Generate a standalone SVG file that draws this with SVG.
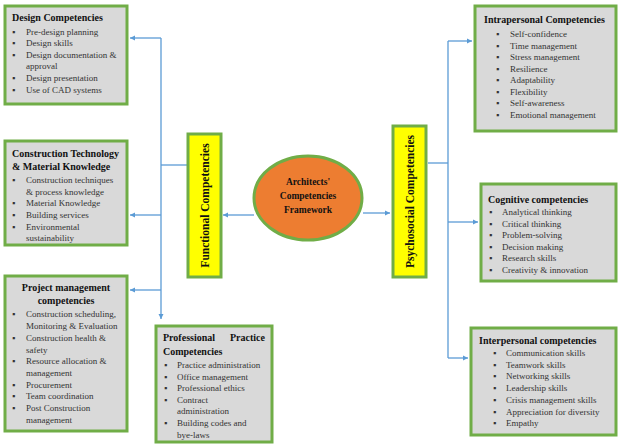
<svg xmlns="http://www.w3.org/2000/svg" width="623" height="446" viewBox="0 0 623 446">
<style>
.box{fill:#d9d9d9;stroke:#70ad47;stroke-width:3}
.yb{fill:#ffff00;stroke:#70ad47;stroke-width:3}
.t{font-family:"Liberation Serif",serif;font-size:10px;font-weight:bold;fill:#111}
.i{font-family:"Liberation Serif",serif;font-size:9px;fill:#333}
.v{font-family:"Liberation Serif",serif;font-size:11.5px;font-weight:bold;fill:#111}
.c{stroke:#5b9bd5;stroke-width:1.3;fill:none}
</style>
<defs><marker id="a" markerWidth="6" markerHeight="6" refX="5" refY="3" orient="auto" markerUnits="userSpaceOnUse"><path d="M0,0.5 L5,3 L0,5.5z" fill="#5b9bd5"/></marker></defs>
<rect width="623" height="446" fill="#fff"/>
<g id="connectors">
<path class="c" d="M187,165 H161"/>
<path class="c" d="M161,38 V319" marker-end="url(#a)"/>
<path class="c" d="M161,38 H130" marker-end="url(#a)"/>
<path class="c" d="M161,215 H130" marker-end="url(#a)"/>
<path class="c" d="M161,290 H130" marker-end="url(#a)"/>
<path class="c" d="M254,215 H223" marker-end="url(#a)"/>
<path class="c" d="M363,213 H390" marker-end="url(#a)"/>
<path class="c" d="M428,163 H448"/>
<path class="c" d="M448,41 V358"/>
<path class="c" d="M448,41 H472" marker-end="url(#a)"/>
<path class="c" d="M448,222 H478" marker-end="url(#a)"/>
<path class="c" d="M448,358 H468" marker-end="url(#a)"/>
</g>
<g id="design"><rect class="box" x="5" y="6" width="122" height="98"/>
<text class="t" x="12" y="21">Design Competencies</text>
<g class="i"><text x="12" y="35">▪</text><text x="26" y="35">Pre-design planning</text><text x="12" y="46">▪</text><text x="26" y="46">Design skills</text><text x="12" y="58">▪</text><text x="26" y="58">Design documentation &amp;</text><text x="26" y="69">approval</text><text x="12" y="81">▪</text><text x="26" y="81">Design presentation</text><text x="12" y="93">▪</text><text x="26" y="93">Use of CAD systems</text></g></g>
<g id="construction"><rect class="box" x="5" y="141" width="122" height="104"/>
<text class="t" x="12" y="157">Construction  Technology</text><text class="t" x="12" y="170">&amp; Material Knowledge</text>
<g class="i"><text x="12" y="183">▪</text><text x="26" y="183">Construction techniques</text><text x="26" y="195">&amp; process knowledge</text><text x="12" y="206">▪</text><text x="26" y="206">Material Knowledge</text><text x="12" y="218">▪</text><text x="26" y="218">Building services</text><text x="12" y="230">▪</text><text x="26" y="230">Environmental</text><text x="26" y="241">sustainability</text></g></g>
<g id="project"><rect class="box" x="5" y="276" width="122" height="155"/>
<text class="t" x="66" y="291" text-anchor="middle">Project management</text><text class="t" x="66" y="304" text-anchor="middle">competencies</text>
<g class="i"><text x="12" y="317">▪</text><text x="26" y="317">Construction scheduling,</text><text x="26" y="329">Monitoring &amp; Evaluation</text><text x="12" y="341">▪</text><text x="26" y="341">Construction health &amp;</text><text x="26" y="353">safety</text><text x="12" y="364">▪</text><text x="26" y="364">Resource allocation &amp;</text><text x="26" y="376">management</text><text x="12" y="388">▪</text><text x="26" y="388">Procurement</text><text x="12" y="399">▪</text><text x="26" y="399">Team coordination</text><text x="12" y="411">▪</text><text x="26" y="411">Post Construction</text><text x="26" y="423">management</text></g></g>
<g id="professional"><rect class="box" x="156" y="326" width="116" height="116"/>
<text class="t" x="163" y="341">Professional</text><text class="t" x="265" y="341" text-anchor="end">Practice</text><text class="t" x="163" y="355">Competencies</text>
<g class="i"><text x="164" y="368">▪</text><text x="177" y="368">Practice administration</text><text x="164" y="380">▪</text><text x="177" y="380">Office management</text><text x="164" y="391">▪</text><text x="177" y="391">Professional ethics</text><text x="164" y="403">▪</text><text x="177" y="403">Contract</text><text x="177" y="414">administration</text><text x="164" y="426">▪</text><text x="177" y="426">Building codes and</text><text x="177" y="438">bye-laws</text></g></g>
<g id="functional"><rect class="yb" x="188" y="134" width="33" height="143"/>
<text class="v" transform="translate(209,205.5) rotate(-90)" text-anchor="middle">Functional Competencies</text></g>
<g id="center"><ellipse cx="308" cy="198" rx="54" ry="42" fill="#ed7d31" stroke="#70ad47" stroke-width="3"/>
<text class="t" x="308" y="185" text-anchor="middle" style="font-size:9.5px">Architects'</text><text class="t" x="308" y="199" text-anchor="middle" style="font-size:9.5px">Competencies</text><text class="t" x="308" y="213" text-anchor="middle" style="font-size:9.5px">Framework</text></g>
<g id="psychosocial"><rect class="yb" x="393" y="126" width="33" height="151"/>
<text class="v" transform="translate(414,201.5) rotate(-90)" text-anchor="middle">Psychosocial Competencies</text></g>
<g id="intrapersonal"><rect class="box" x="475" y="6" width="141" height="125"/>
<text class="t" x="484" y="23">Intrapersonal Competencies</text>
<g class="i"><text x="496" y="37">▪</text><text x="510" y="37">Self-confidence</text><text x="496" y="49">▪</text><text x="510" y="49">Time management</text><text x="496" y="60">▪</text><text x="510" y="60">Stress management</text><text x="496" y="72">▪</text><text x="510" y="72">Resilience</text><text x="496" y="83">▪</text><text x="510" y="83">Adaptability</text><text x="496" y="95">▪</text><text x="510" y="95">Flexibility</text><text x="496" y="106">▪</text><text x="510" y="106">Self-awareness</text><text x="496" y="118">▪</text><text x="510" y="118">Emotional management</text></g></g>
<g id="cognitive"><rect class="box" x="481" y="184" width="135" height="97"/>
<text class="t" x="488" y="203">Cognitive competencies</text>
<g class="i"><text x="489" y="215">▪</text><text x="502" y="215">Analytical thinking</text><text x="489" y="227">▪</text><text x="502" y="227">Critical thinking</text><text x="489" y="238">▪</text><text x="502" y="238">Problem-solving</text><text x="489" y="250">▪</text><text x="502" y="250">Decision making</text><text x="489" y="261">▪</text><text x="502" y="261">Research skills</text><text x="489" y="273">▪</text><text x="502" y="273">Creativity &amp; innovation</text></g></g>
<g id="interpersonal"><rect class="box" x="471" y="328" width="145" height="107"/>
<text class="t" x="479" y="344">Interpersonal competencies</text>
<g class="i"><text x="493" y="356">▪</text><text x="506" y="356">Communication skills</text><text x="493" y="368">▪</text><text x="506" y="368">Teamwork skills</text><text x="493" y="379">▪</text><text x="506" y="379">Networking skills</text><text x="493" y="391">▪</text><text x="506" y="391">Leadership skills</text><text x="493" y="403">▪</text><text x="506" y="403">Crisis management skills</text><text x="493" y="415">▪</text><text x="506" y="415">Appreciation for diversity</text><text x="493" y="426">▪</text><text x="506" y="426">Empathy</text></g></g>
</svg>
